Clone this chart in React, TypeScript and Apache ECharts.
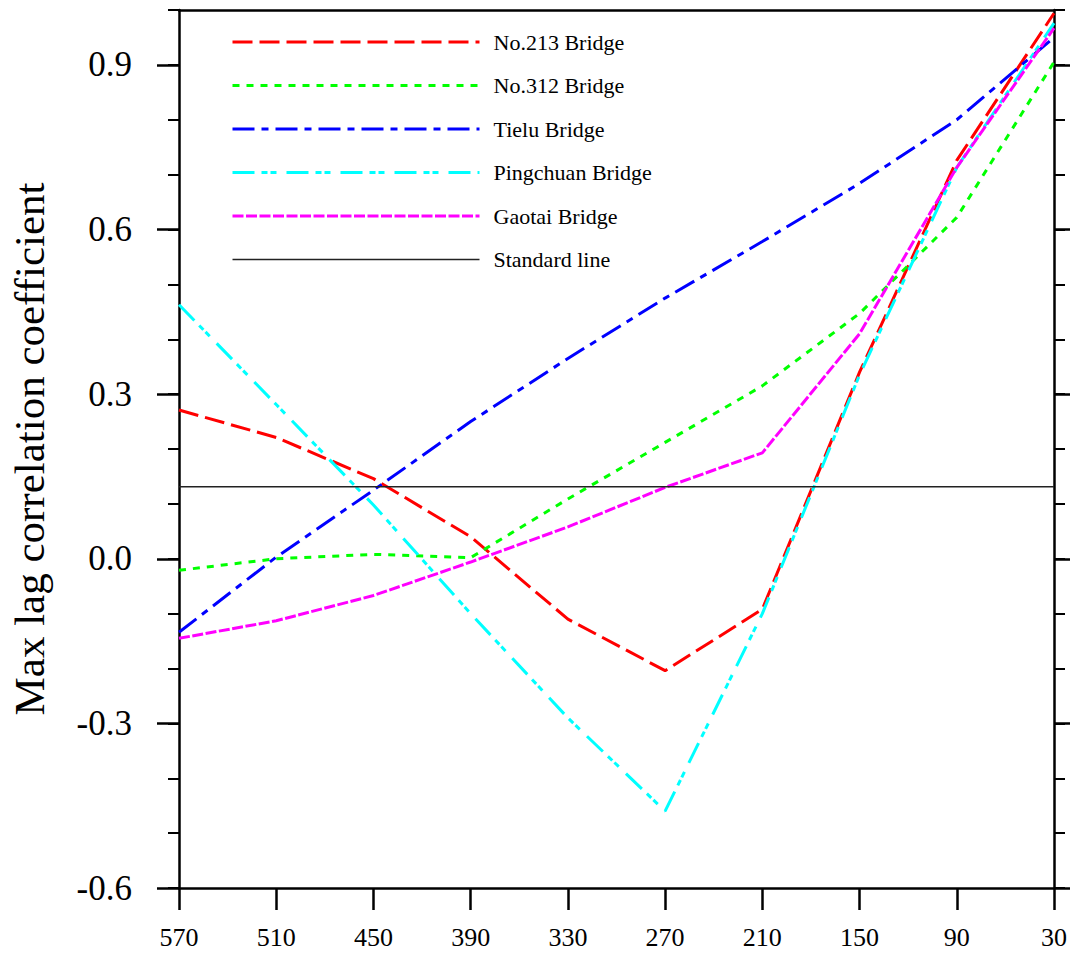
import React, { useEffect, useRef } from "react";
import * as echarts from "echarts";

const categories = ["570", "510", "450", "390", "330", "270", "210", "150", "90", "30"];
const no213 = [0.271, 0.221, 0.146, 0.04, -0.11, -0.204, -0.092, 0.34, 0.726, 0.994];
const no312 = [-0.021, 0.0, 0.008, 0.002, 0.109, 0.212, 0.315, 0.447, 0.622, 0.905];
const tielu = [-0.134, 0.003, 0.125, 0.25, 0.365, 0.475, 0.578, 0.684, 0.8, 0.95];
const pingchuan = [0.463, 0.281, 0.098, -0.1, -0.29, -0.46, -0.1, 0.335, 0.713, 0.976];
const gaotai = [-0.145, -0.113, -0.067, -0.006, 0.058, 0.13, 0.193, 0.41, 0.713, 0.967];
const standardLine = [0.131, 0.131, 0.131, 0.131, 0.131, 0.131, 0.131, 0.131, 0.131, 0.131];
const majorTicks = [-0.6, -0.3, 0, 0.3, 0.6, 0.9];

const FONT = "'Liberation Serif', 'Times New Roman', serif";

const seriesDefs = [
  { name: "No.213 Bridge", data: no213, color: "#ff0000", dash: [20, 7], width: 3 },
  { name: "No.312 Bridge", data: no312, color: "#00ff00", dash: [7, 7], width: 3 },
  { name: "Tielu Bridge", data: tielu, color: "#0000ff", dash: [22, 7, 7, 7], width: 3 },
  { name: "Pingchuan Bridge", data: pingchuan, color: "#00ffff", dash: [22, 7, 6, 3, 6, 10], width: 3 },
  { name: "Gaotai Bridge", data: gaotai, color: "#ff00ff", dash: [11, 2.5], width: 3 },
  { name: "Standard line", data: standardLine, color: "#222222", dash: "solid", width: 1.5 },
];

export default function App() {
  const ref = useRef<HTMLDivElement>(null);
  useEffect(() => {
    if (!ref.current) return;
    const chart = echarts.init(ref.current, null, { renderer: "svg" });
    const axisLine = { show: true, onZero: false, lineStyle: { color: "#000", width: 2.5 } };
    const yBase = { type: "value", min: -0.6, max: 1.0, splitLine: { show: false } };
    chart.setOption({
      animation: false,
      backgroundColor: "#fff",
      grid: { left: 179, top: 10, right: 13, bottom: 69, containLabel: false },
      legend: {
        orient: "vertical",
        left: 231,
        top: 31,
        padding: 0,
        itemWidth: 247,
        itemHeight: 22,
        itemGap: 21.5,
        textStyle: { fontFamily: FONT, fontSize: 22, color: "#000", lineHeight: 22, padding: [0, 0, 0, 9] },
        data: seriesDefs.map((s) => ({
          name: s.name,
          itemStyle: { opacity: 0 },
          lineStyle: { width: s.width, type: s.dash, color: s.color },
        })),
      },
      xAxis: [
        {
          type: "category",
          data: categories,
          boundaryGap: false,
          position: "bottom",
          axisLine,
          axisTick: { show: true, length: 22, lineStyle: { color: "#000", width: 2.5 } },
          axisLabel: { fontFamily: FONT, fontSize: 26, color: "#000", margin: 36 },
          splitLine: { show: false },
        },
        {
          type: "category",
          data: categories,
          boundaryGap: false,
          position: "top",
          axisLine,
          axisTick: { show: false },
          axisLabel: { show: false },
          splitLine: { show: false },
        },
      ],
      yAxis: [
        {
          ...yBase,
          position: "left",
          interval: 0.3,
          axisLine,
          axisTick: { show: true, length: 22, customValues: majorTicks, lineStyle: { color: "#000", width: 2.5 } },
          axisLabel: {
            customValues: majorTicks,
            fontFamily: FONT,
            fontSize: 35,
            color: "#000",
            margin: 47,
            formatter: (v: number) => v.toFixed(1),
          },
          name: "Max lag correlation coefficient",
          nameLocation: "middle",
          nameRotate: 90,
          nameGap: 128,
          nameTextStyle: { fontFamily: FONT, fontSize: 43, color: "#000" },
        },
        {
          ...yBase,
          position: "left",
          interval: 0.1,
          axisLine: { show: false },
          axisTick: { show: true, length: 11, lineStyle: { color: "#000", width: 2 } },
          axisLabel: { show: false },
        },
        {
          ...yBase,
          position: "right",
          interval: 0.3,
          axisLine,
          axisTick: { show: true, length: 22, customValues: majorTicks, lineStyle: { color: "#000", width: 2.5 } },
          axisLabel: { show: false },
        },
        {
          ...yBase,
          position: "right",
          interval: 0.1,
          axisLine: { show: false },
          axisTick: { show: true, length: 11, lineStyle: { color: "#000", width: 2 } },
          axisLabel: { show: false },
        },
      ],
      series: seriesDefs.map((s) => ({
        name: s.name,
        type: "line",
        data: s.data,
        xAxisIndex: 0,
        yAxisIndex: 0,
        symbol: "none",
        showSymbol: false,
        color: s.color,
        lineStyle: { color: s.color, width: s.width, type: s.dash },
        emphasis: { disabled: true },
      })),
    });
    return () => chart.dispose();
  }, []);
  return (
    <div
      ref={ref}
      style={{ position: "absolute", left: 0, top: 0, width: 1070, height: 957 }}
    />
  );
}
